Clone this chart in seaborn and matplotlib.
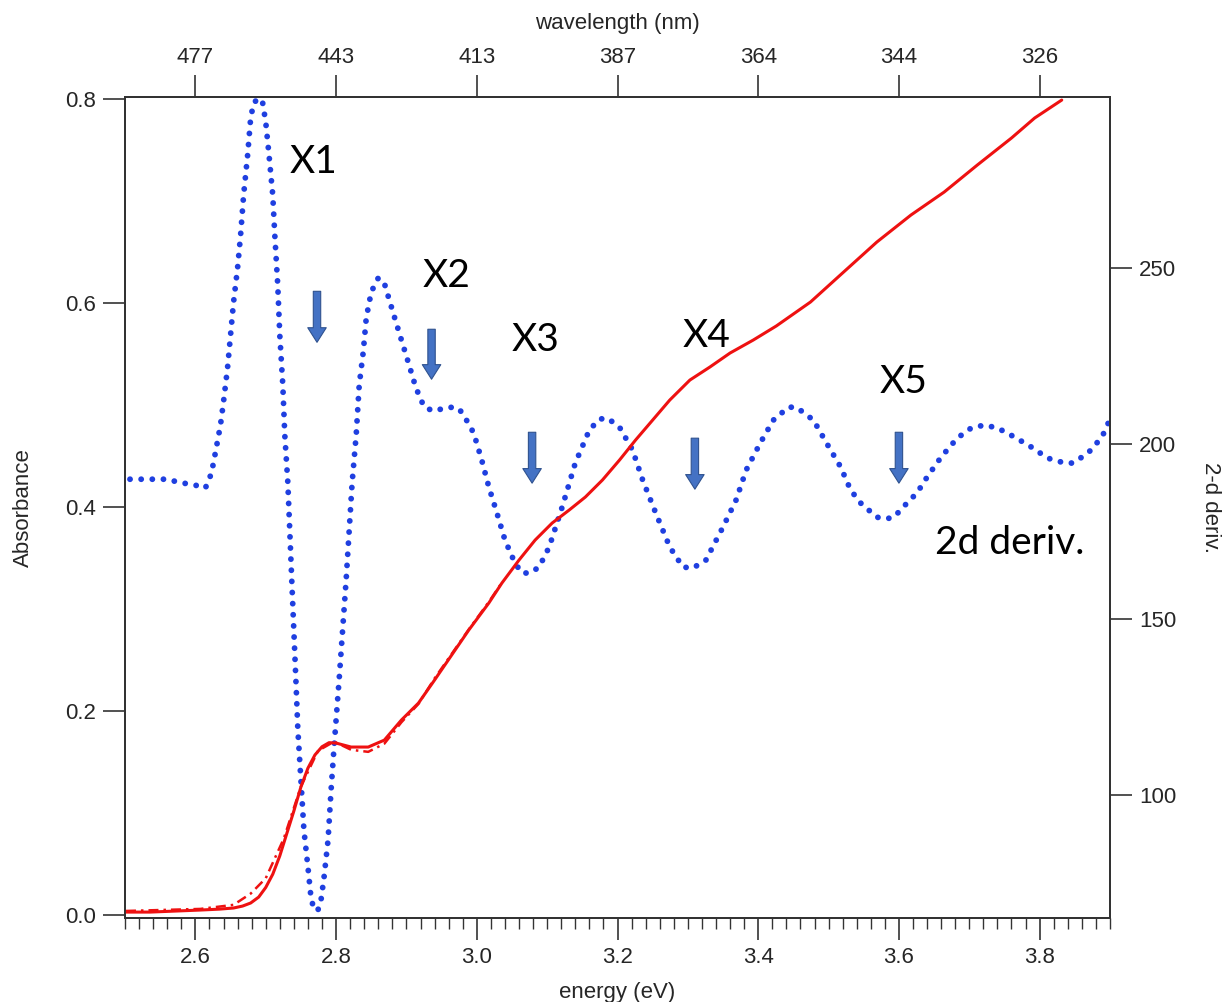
import matplotlib
matplotlib.use("Agg")
import matplotlib.pyplot as plt
import seaborn as sns
from matplotlib.ticker import MultipleLocator, FixedLocator

# ---------------- data ----------------
energy_abs = [2.5014, 2.5357, 2.5714, 2.6071, 2.6343, 2.6543, 2.6671, 2.6786, 2.69, 2.70,
              2.71, 2.72, 2.73, 2.74, 2.75, 2.76, 2.77, 2.78, 2.79, 2.80,
              2.8214, 2.8457, 2.8686, 2.8929, 2.9171, 2.94, 2.9886, 3.0171, 3.0357, 3.06,
              3.0829, 3.1071, 3.1314, 3.1543, 3.1786, 3.2029, 3.2257, 3.25, 3.2743, 3.3029,
              3.3314, 3.36, 3.3929, 3.4257, 3.4743, 3.5214, 3.5686, 3.6171, 3.6643, 3.7114,
              3.76, 3.7929, 3.8314]
absorbance = [0.0029, 0.0029, 0.0039, 0.0049, 0.0058, 0.0069, 0.0088, 0.0118, 0.0176, 0.027,
              0.040, 0.058, 0.080, 0.102, 0.1255, 0.144, 0.157, 0.165, 0.169, 0.1686,
              0.1647, 0.1647, 0.1715, 0.1912, 0.2078, 0.2304, 0.2794, 0.3059, 0.3255, 0.348,
              0.3676, 0.3843, 0.3971, 0.4098, 0.4265, 0.4461, 0.4657, 0.4853, 0.5049, 0.5245,
              0.5373, 0.551, 0.5637, 0.5775, 0.601, 0.6304, 0.6598, 0.6863, 0.7088, 0.7353,
              0.7618, 0.7814, 0.799]

energy_raw = [2.5014, 2.6071, 2.6543, 2.6786, 2.70, 2.7257, 2.75, 2.7743, 2.7971, 2.8214,
              2.8457, 2.8686, 2.8929, 2.9171, 2.94, 2.9886, 3.0171, 3.0357]
absorbance_raw = [0.004, 0.006, 0.010, 0.021, 0.036, 0.075, 0.126, 0.161, 0.170, 0.162,
                  0.160, 0.168, 0.189, 0.207, 0.232, 0.280, 0.307, 0.326]

energy_d2 = [2.5071, 2.5357, 2.5614, 2.5743, 2.6, 2.6143, 2.6229, 2.6286, 2.6357, 2.64,
             2.6457, 2.65, 2.6543, 2.66, 2.6643, 2.6686, 2.6743, 2.6786, 2.6829, 2.69,
             2.6957, 2.70, 2.7043, 2.71, 2.7129, 2.7171, 2.72, 2.7243, 2.7271, 2.7314,
             2.737, 2.7429, 2.7457, 2.75, 2.7543, 2.76, 2.7643, 2.7686, 2.7743, 2.7786,
             2.7829, 2.7886, 2.7929, 2.7971, 2.8043, 2.8143, 2.8229, 2.8286, 2.8329, 2.8386,
             2.8429, 2.85, 2.86, 2.8686, 2.8757, 2.8829, 2.8929, 2.9029, 2.9114, 2.9186,
             2.9257, 2.9386, 2.95, 2.9614, 2.9743, 2.9829, 2.9957, 3.0071, 3.0171, 3.0286,
             3.04, 3.0543, 3.0643, 3.0757, 3.0886, 3.1029, 3.1214, 3.14, 3.16, 3.1743,
             3.1857, 3.2029, 3.2214, 3.2357, 3.2543, 3.2743, 3.2929, 3.3071, 3.3257, 3.35,
             3.3686, 3.3829, 3.4029, 3.4214, 3.4429, 3.4543, 3.4786, 3.4971, 3.5171, 3.5314,
             3.5457, 3.5686, 3.5814, 3.5929, 3.6114, 3.6257, 3.64, 3.66, 3.6829, 3.7029,
             3.7214, 3.74, 3.7643, 3.7886, 3.8114, 3.8357, 3.8471, 3.8686, 3.8886, 3.9]
deriv2 = [189.9, 189.9, 189.9, 189.1, 188.2, 187.4, 191.6, 197.6, 205.3, 211.9,
          221.5, 230.9, 240.3, 250.0, 259.4, 270.8, 282.2, 292.7, 297.0, 298.4,
          297.0, 291.6, 283.0, 270.8, 259.4, 245.2, 230.9, 216.7, 202.5, 189.1,
          161.2, 132.7, 118.5, 104.3, 90.0, 79.5, 70.9, 67.3, 67.3, 70.1,
          76.6, 87.2, 101.4, 113.6, 132.7, 161.2, 189.1, 202.5, 216.7, 226.1,
          235.8, 243.2, 247.2, 245.7, 240.9, 236.1, 229.5, 223.0, 217.3, 213.3,
          210.4, 209.3, 209.9, 210.4, 210.1, 207.6, 203.0, 195.3, 187.7, 180.3,
          172.6, 166.0, 163.2, 163.2, 164.9, 170.6, 182.0, 194.5, 203.9, 207.0,
          207.3, 204.7, 198.2, 189.7, 180.3, 170.6, 164.9, 164.6, 166.9, 176.3,
          184.0, 192.5, 200.2, 206.7, 210.4, 210.4, 206.7, 200.2, 193.4, 186.8,
          183.1, 179.1, 178.6, 179.1, 183.1, 186.0, 190.5, 196.2, 201.6, 204.5,
          205.3, 204.5, 201.9, 199.0, 195.9, 194.5, 194.5, 197.3, 201.9, 207.0]

energy_ticks = [2.6, 2.8, 3.0, 3.2, 3.4, 3.6, 3.8]
energy_ticklabels = ["2.6", "2.8", "3.0", "3.2", "3.4", "3.6", "3.8"]
wavelength_ticklabels = ["477", "443", "413", "387", "364", "344", "326"]
abs_ticks = [0.0, 0.2, 0.4, 0.6, 0.8]
deriv_ticks = [100, 150, 200, 250]

peak_labels = ["X1", "X2", "X3", "X4", "X5"]
peak_label_x = [2.7686, 2.957, 3.083, 3.326, 3.607]
peak_label_y = [0.738, 0.627, 0.5635, 0.568, 0.5224]
arrow_x = [2.7729, 2.9357, 3.0786, 3.31, 3.60]
arrow_top = [0.6115, 0.5743, 0.4733, 0.4675, 0.4733]
arrow_tip = [0.5615, 0.5253, 0.4234, 0.4175, 0.4234]

# ---------------- style ----------------
sns.set_style("white")
plt.rcParams["font.family"] = ["Liberation Sans", "DejaVu Sans"]
TICK_FS = 16
LABEL_FS = 16
AXCOL = "#333333"

fig = plt.figure(figsize=(12.27, 10.02), dpi=100)
ax = fig.add_axes([125/1227, 1-918/1002, (1110-125)/1227, (918-97)/1002])
ax2 = ax.twinx()
ax3 = ax.twiny()

# red absorbance on left axis
sns.lineplot(x=energy_raw, y=absorbance_raw, ax=ax, color="#ee1111", linewidth=1.8,
             linestyle=(0, (4, 2, 1, 2)), legend=False)
sns.lineplot(x=energy_abs, y=absorbance, ax=ax, color="#ee1111", linewidth=2.2, legend=False)

# blue 2nd derivative (dotted) on right axis
sns.lineplot(x=energy_d2, y=deriv2, ax=ax2, color="#1f3fe0", linewidth=4.2,
             linestyle=(0, (0.01, 1.9)), dash_capstyle="round", legend=False)

ax.set_zorder(ax2.get_zorder() + 1)
ax.patch.set_visible(False)

ax.set_xlim(2.5, 3.9)
ax.set_ylim(-0.0029, 0.802)
ax2.set_ylim(65.0, 298.7)

# left axis
ax.yaxis.set_major_locator(FixedLocator(abs_ticks))
ax.set_yticklabels([f"{v:.1f}" for v in abs_ticks])
ax.set_ylabel("Absorbance", fontsize=LABEL_FS, labelpad=22)
# bottom axis
ax.xaxis.set_major_locator(FixedLocator(energy_ticks))
ax.set_xticklabels(energy_ticklabels)
ax.xaxis.set_minor_locator(MultipleLocator(0.02))
ax.set_xlabel("energy (eV)", fontsize=LABEL_FS, labelpad=10)
ax.tick_params(axis="both", which="major", direction="out", length=16, width=1.2,
               color=AXCOL, labelsize=TICK_FS, pad=5)
ax.tick_params(axis="x", which="minor", direction="out", length=8, width=1.0, color=AXCOL)
ax.tick_params(axis="x", which="both", bottom=True, top=False)
ax.tick_params(axis="y", left=True, right=False)

# right axis
ax2.yaxis.set_major_locator(FixedLocator(deriv_ticks))
ax2.set_yticklabels([str(v) for v in deriv_ticks])
ax2.tick_params(axis="y", direction="out", length=16, width=1.2, color=AXCOL,
                labelsize=TICK_FS, pad=5, right=True, left=False)
ax2.set_ylabel("2-d deriv.", fontsize=LABEL_FS, rotation=270, labelpad=32)

# top axis (wavelength)
ax3.set_xlim(ax.get_xlim())
ax3.xaxis.set_major_locator(FixedLocator(energy_ticks))
ax3.set_xticklabels(wavelength_ticklabels)
ax3.tick_params(axis="x", direction="out", length=16, width=1.2, color=AXCOL,
                labelsize=TICK_FS, pad=5, top=True, bottom=False)
ax3.set_xlabel("wavelength (nm)", fontsize=LABEL_FS, labelpad=13)

for a in (ax, ax2, ax3):
    for s in a.spines.values():
        s.set_color(AXCOL)
        s.set_linewidth(1.3)
        s.set_visible(True)

# annotations
for lab, x, y in zip(peak_labels, peak_label_x, peak_label_y):
    ax.text(x, y, lab, fontsize=28, family=["Lato", "DejaVu Sans"], ha="center", va="center",
            color="black")
ax.text(3.757, 0.3646, "2d deriv.", fontsize=28, family=["Lato", "DejaVu Sans"],
        ha="center", va="center", color="black")

for x, t, b in zip(arrow_x, arrow_top, arrow_tip):
    ax.annotate("", xy=(x, b), xytext=(x, t),
                arrowprops=dict(arrowstyle="simple,head_length=0.75,head_width=0.95,tail_width=0.38",
                                fc="#4472c4", ec="#2f528f", lw=0.8, shrinkA=0, shrinkB=0,
                                mutation_scale=14))

fig.savefig("out.png", dpi=100, facecolor="white")
